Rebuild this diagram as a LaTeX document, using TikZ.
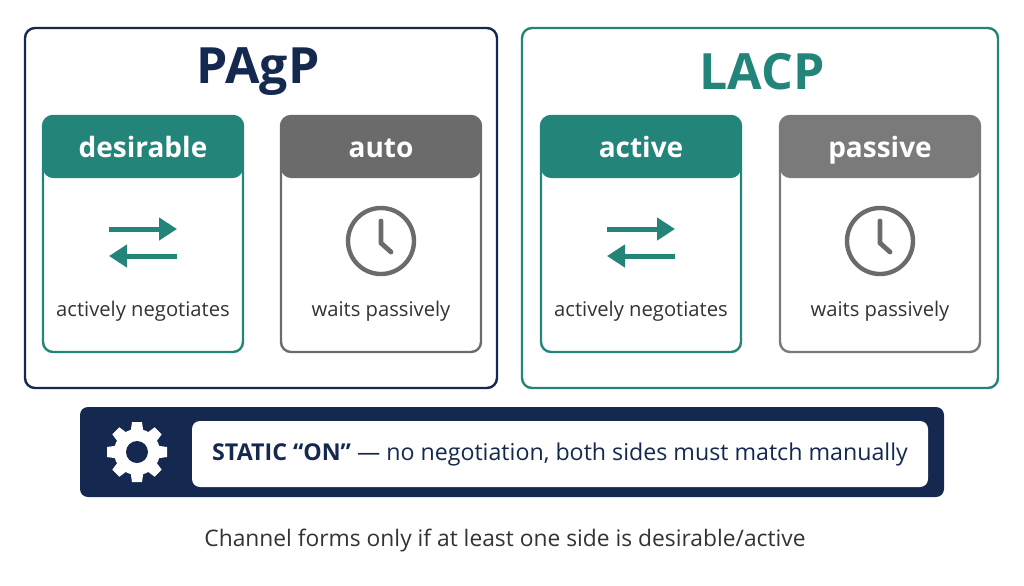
\documentclass[tikz,border=0pt]{standalone}
\usepackage{fontspec}
\setmainfont{Open Sans}
\usepackage{tikz}
\usetikzlibrary{positioning,calc,arrows.meta}
\definecolor{navy}{HTML}{15284F}
\definecolor{tealc}{HTML}{23857A}
\definecolor{grayh}{HTML}{6B6B6B}
\definecolor{grayb}{HTML}{7A7A7A}
\begin{document}
\begin{tikzpicture}[x=0.5pt,y=-0.5pt,
      outer/.style={draw=#1, line width=1.2pt, rounded corners=5pt, minimum width=236pt, minimum height=180pt},
      card/.style={draw=#1, line width=1.2pt, rounded corners=5pt, minimum width=100pt, minimum height=118pt,
        path picture={\fill[#1] (path picture bounding box.north west) rectangle ([yshift=-31pt]path picture bounding box.north east);}},
      head/.style={text=white, text height=10pt, text depth=3pt, font=\bfseries\fontsize{14}{16}\selectfont},
      body/.style={text=black!80, font=\fontsize{10.1}{12}\selectfont},
      swap/.style={tealc, line width=2.5pt, -{Triangle[length=9pt,width=11pt]}},
    ]
      \useasboundingbox (0,0) rectangle (1024,585);
      % groups
      \node[outer=navy] (pagp) at (261,208) {};
      \node[outer=tealc, minimum width=238pt] (lacp) at (760,208) {};
      \node[text=navy, font=\bfseries\fontsize{25}{28}\selectfont] (pagpt) at (258,72) {PAgP};
      \node[text=tealc, font=\bfseries\fontsize{25}{28}\selectfont] (lacpt) at (762,72) {LACP};

      % cards
      \foreach \nm/\cx/\col/\hd/\txt/\ic in {des/143/tealc/desirable/actively negotiates/1,
                                           aut/381/grayh/auto/waits passively/0,
                                           act/641/tealc/active/actively negotiates/1,
                                           pas/880/grayb/passive/waits passively/0}{
        \node[card=\col] (\nm) at (\cx,234) {};
        \node[head] (\nm h) at (\cx,150) {\hd};
        \node[body] (\nm t) at (\cx,311) {\txt};
        \ifnum\ic=1
          \draw[swap] (\cx-34,229) -- (\cx+34,229);
          \draw[swap] (\cx+34,256) -- (\cx-34,256);
        \else
          \draw[grayh, line width=2.2pt] (\cx,241) circle (33);
          \draw[grayh, line width=2.4pt, line cap=round] (\cx,221) -- (\cx,243) -- (\cx+10,252);
        \fi
      }

      % static bar
      \node[fill=navy, rounded corners=4pt, minimum width=432pt, minimum height=45pt] (bar) at (512,452) {};
      \node[fill=white, rounded corners=4pt, minimum width=368pt, minimum height=33pt] (box) at (560,454) {};
      \node[text=navy, font=\fontsize{11.6}{14}\selectfont] (boxt) at (box.center) {\textbf{STATIC “ON”} — no negotiation, both sides must match manually};
      % gear
      \foreach \a in {0,45,...,315}
        \fill[white, rotate around={\a:(137,452)}] (132,422) -- (142,422) -- (144,436) -- (130,436) -- cycle;
      \fill[white] (137,452) circle (23);
      \fill[navy] (137,452) circle (11);

      \node[text=black!80, font=\fontsize{11.4}{13}\selectfont] (cap) at (505,541) {Channel forms only if at least one side is desirable/active};
\end{tikzpicture}
\end{document}
